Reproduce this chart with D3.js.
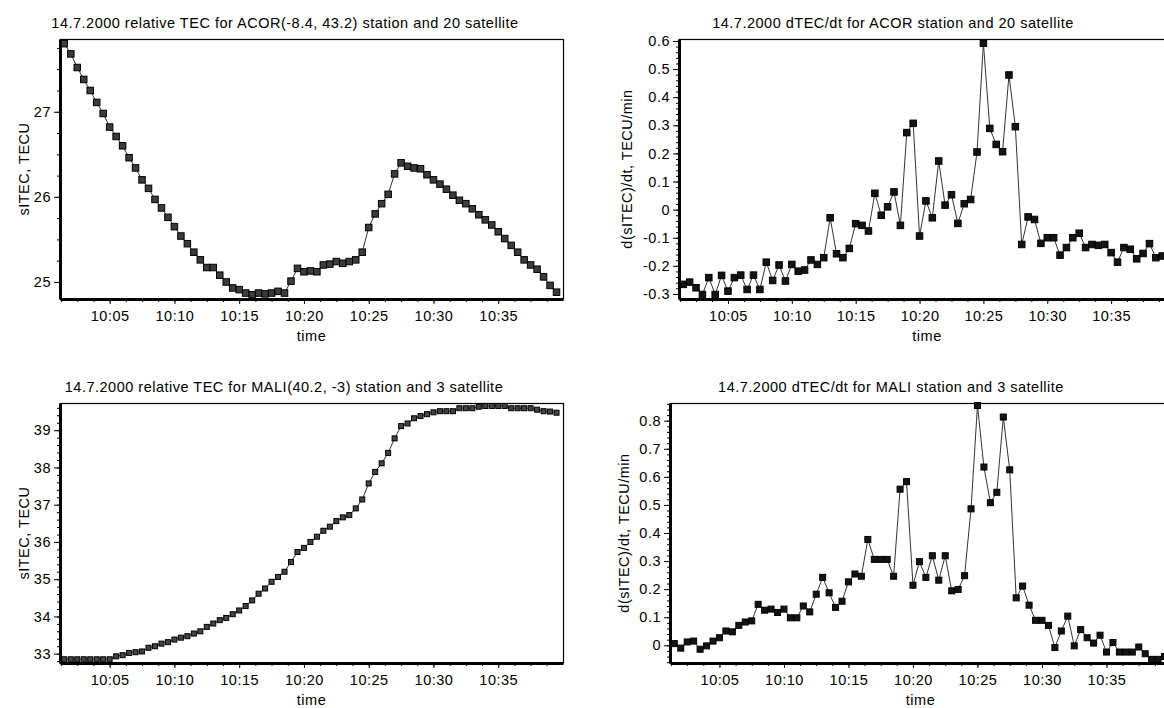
<!DOCTYPE html>
<html>
<head>
<meta charset="utf-8">
<script src="https://cdn.jsdelivr.net/npm/d3@7"></script>
<style>
  body { margin: 0; background: #fff; }
  svg text { font-family: "Liberation Sans", Arial, sans-serif; fill: #000; font-size: 14.5px; letter-spacing: 0.5px; }
  .axis path, .axis line { stroke: #000; }
  .axis text { font-size: 14.5px; }
</style>
</head>
<body>
<div id="chart"></div>
<script>

// sample times (30 s step)
var times = ["10:01:30","10:02:00","10:02:30","10:03:00","10:03:30","10:04:00","10:04:30","10:05:00","10:05:30","10:06:00",
  "10:06:30","10:07:00","10:07:30","10:08:00","10:08:30","10:09:00","10:09:30","10:10:00","10:10:30","10:11:00",
  "10:11:30","10:12:00","10:12:30","10:13:00","10:13:30","10:14:00","10:14:30","10:15:00","10:15:30","10:16:00",
  "10:16:30","10:17:00","10:17:30","10:18:00","10:18:30","10:19:00","10:19:30","10:20:00","10:20:30","10:21:00",
  "10:21:30","10:22:00","10:22:30","10:23:00","10:23:30","10:24:00","10:24:30","10:25:00","10:25:30","10:26:00",
  "10:26:30","10:27:00","10:27:30","10:28:00","10:28:30","10:29:00","10:29:30","10:30:00","10:30:30","10:31:00",
  "10:31:30","10:32:00","10:32:30","10:33:00","10:33:30","10:34:00","10:34:30","10:35:00","10:35:30","10:36:00",
  "10:36:30","10:37:00","10:37:30","10:38:00","10:38:30","10:39:00","10:39:30"];

var timeTicks = ["10:05","10:10","10:15","10:20","10:25","10:30","10:35"];

// ACOR station, satellite 20
var acorTec = [27.80,27.68,27.52,27.38,27.25,27.11,26.98,26.82,26.71,26.60,
  26.46,26.34,26.20,26.10,25.97,25.87,25.76,25.65,25.54,25.45,
  25.35,25.26,25.17,25.17,25.08,25.00,24.93,24.91,24.87,24.85,
  24.87,24.86,24.87,24.89,24.87,25.01,25.16,25.12,25.13,25.12,
  25.20,25.21,25.24,25.22,25.24,25.26,25.35,25.64,25.80,25.92,
  26.03,26.27,26.40,26.36,26.34,26.33,26.26,26.20,26.15,26.09,
  26.02,25.96,25.92,25.86,25.79,25.73,25.67,25.59,25.51,25.43,
  25.35,25.26,25.20,25.15,25.06,24.96,24.88];

var acorDtec = [-0.266,-0.258,-0.278,-0.302,-0.242,-0.302,-0.234,-0.290,-0.242,-0.233,
  -0.284,-0.233,-0.284,-0.187,-0.252,-0.197,-0.254,-0.195,-0.219,-0.215,
  -0.179,-0.195,-0.171,-0.029,-0.157,-0.171,-0.138,-0.050,-0.056,-0.076,
  0.058,-0.020,0.010,0.063,-0.056,0.274,0.307,-0.094,0.031,-0.029,
  0.173,0.016,0.053,-0.049,0.021,0.036,0.205,0.592,0.289,0.232,
  0.206,0.479,0.295,-0.124,-0.026,-0.035,-0.120,-0.100,-0.100,-0.162,
  -0.135,-0.100,-0.084,-0.135,-0.124,-0.127,-0.124,-0.153,-0.187,-0.135,
  -0.141,-0.175,-0.156,-0.121,-0.171,-0.165,-0.160];

// MALI station, satellite 3
var maliTec = [32.85,32.85,32.85,32.85,32.85,32.85,32.85,32.85,
  32.93,32.96,33.02,33.04,33.06,33.16,33.20,33.27,33.31,33.38,
  33.43,33.47,33.54,33.60,33.72,33.81,33.90,33.96,34.06,34.16,
  34.28,34.43,34.61,34.75,34.93,35.06,35.20,35.46,35.73,35.84,
  36.00,36.14,36.30,36.41,36.56,36.66,36.72,36.90,37.14,37.57,
  37.88,38.11,38.39,38.78,39.11,39.18,39.32,39.38,39.43,39.48,
  39.51,39.51,39.51,39.59,39.59,39.59,39.63,39.65,39.65,39.65,
  39.65,39.59,39.59,39.59,39.59,39.55,39.51,39.50,39.47];

var maliDtec = [0.006,-0.010,0.012,0.015,-0.014,-0.002,0.015,0.027,0.051,0.048,
  0.071,0.083,0.087,0.146,0.125,0.129,0.117,0.129,0.098,0.098,
  0.140,0.119,0.182,0.242,0.187,0.135,0.157,0.226,0.254,0.246,
  0.377,0.306,0.306,0.306,0.246,0.556,0.583,0.214,0.298,0.242,
  0.319,0.232,0.319,0.194,0.199,0.248,0.486,0.854,0.635,0.508,
  0.545,0.813,0.625,0.169,0.211,0.143,0.089,0.089,0.071,-0.008,
  0.051,0.104,-0.002,0.056,0.027,0.008,0.036,-0.024,0.010,-0.024,
  -0.024,-0.024,-0.006,-0.030,-0.050,-0.050,-0.040];

var tecTicks1 = [25, 26, 27];
var tecTicks2 = [33, 34, 35, 36, 37, 38, 39];
var dtecTicks1 = [-0.3, -0.2, -0.1, 0, 0.1, 0.2, 0.3, 0.4, 0.5, 0.6];
var dtecTicks2 = [0, 0.1, 0.2, 0.3, 0.4, 0.5, 0.6, 0.7, 0.8];

var parseTime = d3.timeParse("%H:%M:%S");
var parseTick = d3.timeParse("%H:%M");

var svg = d3.select("#chart").append("svg")
  .attr("width", 1164)
  .attr("height", 708);

/*
 * TecPanel - one small chart
 */
TecPanel = function(_svg, _cfg, _values){
  this.svg = _svg;
  this.cfg = _cfg;
  this.values = _values;
  this.initVis();
}

TecPanel.prototype.initVis = function(){
  var vis = this;
  var c = vis.cfg;

  vis.width = c.width;
  vis.height = c.height;

  vis.g = vis.svg.append("g")
    .attr("transform", "translate(" + c.left + "," + c.top + ")");

  vis.x = d3.scaleTime()
    .domain([parseTime("10:01:10"), parseTime("10:40:00")])
    .range([0, vis.width]);

  vis.y = d3.scaleLinear()
    .domain(c.yDomain)
    .range([vis.height, 0]);

  // frame
  vis.g.append("rect")
    .attr("x", 0.5).attr("y", 0.5)
    .attr("width", vis.width).attr("height", vis.height - 0.5)
    .attr("fill", "none")
    .attr("stroke", "#000")
    .attr("stroke-width", 1.2);

  // minor ticks
  var minorX = d3.range(parseTime("10:01:15").getTime(), parseTime("10:40:00").getTime(), 75000)
    .map(function(t){ return new Date(t); });
  vis.g.append("g")
    .attr("class", "axis")
    .attr("transform", "translate(0," + vis.height + ")")
    .call(d3.axisBottom(vis.x).tickValues(minorX).tickSize(3).tickFormat(""))
    .select(".domain").remove();

  var yd = vis.y.domain();
  var minorY = [];
  var k0 = Math.ceil(yd[0] / c.minorStep - 1e-6), k1 = Math.floor(yd[1] / c.minorStep + 1e-6);
  for (var k = k0; k <= k1; k++) minorY.push(k * c.minorStep);
  vis.g.append("g")
    .attr("class", "axis")
    .call(d3.axisLeft(vis.y).tickValues(minorY).tickSize(3).tickFormat(""))
    .select(".domain").remove();

  // axes
  vis.xAxis = d3.axisBottom(vis.x)
    .tickValues(timeTicks.map(parseTick))
    .tickFormat(d3.timeFormat("%H:%M"))
    .tickSize(5)
    .tickPadding(7)
    .tickSizeOuter(0);

  vis.yAxis = d3.axisLeft(vis.y)
    .tickValues(c.yTicks)
    .tickFormat(function(d){ return String(Math.round(d * 10) / 10); })
    .tickSize(6)
    .tickPadding(3)
    .tickSizeOuter(0);

  vis.xAxisGroup = vis.g.append("g")
    .attr("class", "x-axis axis")
    .attr("transform", "translate(0," + vis.height + ")");

  vis.yAxisGroup = vis.g.append("g")
    .attr("class", "y-axis axis");

  // labels
  vis.svg.append("text")
    .attr("x", c.titleX)
    .attr("y", c.titleY)
    .style("text-anchor", "middle")
    .text(c.title);

  vis.svg.append("text")
    .attr("x", c.left + vis.width / 2)
    .attr("y", c.top + vis.height + 42)
    .style("text-anchor", "middle")
    .text("time");

  vis.svg.append("text")
    .attr("transform", "translate(" + c.yLabelX + "," + (c.top + vis.height / 2) + ") rotate(-90)")
    .style("text-anchor", "middle")
    .text(c.yLabel);

  vis.updateVis();
}

TecPanel.prototype.updateVis = function(){
  var vis = this;
  var c = vis.cfg;

  var data = times.map(function(t, i){
    return { time: parseTime(t), value: vis.values[i] };
  });

  var line = d3.line()
    .x(function(d){ return vis.x(d.time); })
    .y(function(d){ return vis.y(d.value); });

  vis.g.append("path")
    .datum(data)
    .attr("fill", "none")
    .attr("stroke", "#333")
    .attr("stroke-width", 1)
    .attr("d", line);

  vis.xAxisGroup.call(vis.xAxis);
  vis.yAxisGroup.call(vis.yAxis);
  vis.g.selectAll(".axis .domain").attr("stroke-width", 3);

  var s = c.markerSize;
  vis.g.selectAll(".pt")
    .data(data)
    .enter()
    .append("rect")
    .attr("class", "pt")
    .attr("x", function(d){ return vis.x(d.time) - s / 2; })
    .attr("y", function(d){ return vis.y(d.value) - s / 2; })
    .attr("width", s)
    .attr("height", s)
    .attr("fill", c.markerFill)
    .attr("stroke", "#000")
    .attr("stroke-width", 1);
}

new TecPanel(svg, {
  left: 60, top: 39, width: 503, height: 260,
  yDomain: [24.80, 27.855], yTicks: tecTicks1, minorStep: 0.25,
  title: "14.7.2000 relative TEC for ACOR(-8.4, 43.2) station and 20 satellite",
  titleX: 285, titleY: 28,
  yLabel: "sITEC, TECU", yLabelX: 29,
  markerSize: 6.5, markerFill: "#3c3c3c"
}, acorTec);

new TecPanel(svg, {
  left: 679, top: 39, width: 496, height: 260,
  yDomain: [-0.318, 0.607], yTicks: dtecTicks1, minorStep: 0.02,
  title: "14.7.2000 dTEC/dt for ACOR station and 20 satellite",
  titleX: 893, titleY: 28,
  yLabel: "d(sITEC)/dt, TECU/min", yLabelX: 632,
  markerSize: 6.5, markerFill: "#141414"
}, acorDtec);

new TecPanel(svg, {
  left: 60, top: 403, width: 503, height: 260,
  yDomain: [32.75, 39.73], yTicks: tecTicks2, minorStep: 0.2,
  title: "14.7.2000 relative TEC for MALI(40.2, -3) station and 3 satellite",
  titleX: 284, titleY: 392,
  yLabel: "sITEC, TECU", yLabelX: 29,
  markerSize: 5, markerFill: "#444"
}, maliTec);

new TecPanel(svg, {
  left: 670, top: 403, width: 501, height: 260,
  yDomain: [-0.063, 0.863], yTicks: dtecTicks2, minorStep: 0.02,
  title: "14.7.2000 dTEC/dt for MALI station and 3 satellite",
  titleX: 891, titleY: 392,
  yLabel: "d(sITEC)/dt, TECU/min", yLabelX: 629,
  markerSize: 6, markerFill: "#141414"
}, maliDtec);

</script>
</body>
</html>
